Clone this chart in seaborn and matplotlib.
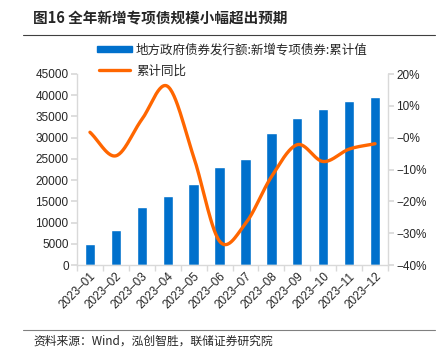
import matplotlib
matplotlib.use("Agg")
import matplotlib.pyplot as plt
import numpy as np
import pandas as pd
import seaborn as sns
from matplotlib.lines import Line2D
from matplotlib.patches import Patch
from matplotlib.ticker import FuncFormatter

months = ["2023-01", "2023-02", "2023-03", "2023-04", "2023-05", "2023-06",
          "2023-07", "2023-08", "2023-09", "2023-10", "2023-11", "2023-12"]
issuance = [4950, 8250, 13650, 16250, 19000, 23100, 25000, 31000, 34650, 36750, 38650, 39500]
yoy = [1.7, -5.7, 5.7, 16.1, -6.0, -32.5, -27.0, -12.3, -2.2, -7.5, -3.6, -1.9]

bar_label = "地方政府债券发行额:新增专项债券:累计值"
line_label = "累计同比"
title = "图16 全年新增专项债规模小幅超出预期"
source = "资料来源：Wind，泓创智胜，联储证券研究院"

BLUE = "#0070CC"
ORANGE = "#FF6600"
AXIS = "#D9D9D9"
CJK = ["Noto Sans CJK SC", "DejaVu Sans"]

sns.set_theme(style="white")
plt.rcParams["font.family"] = ["Liberation Sans", "Noto Sans CJK SC", "DejaVu Sans"]
plt.rcParams["axes.unicode_minus"] = True


def catmull_rom(x, y, n=30):
    # smooth curve through the points (Excel-style smoothed line)
    x = np.asarray(x, float)
    y = np.asarray(y, float)
    px = np.concatenate([[2 * x[0] - x[1]], x, [2 * x[-1] - x[-2]]])
    py = np.concatenate([[2 * y[0] - y[1]], y, [2 * y[-1] - y[-2]]])
    xs, ys = [], []
    t = np.linspace(0, 1, n)
    for i in range(1, len(px) - 2):
        for p, out in ((px, xs), (py, ys)):
            p0, p1, p2, p3 = p[i - 1], p[i], p[i + 1], p[i + 2]
            out.append(0.5 * (2 * p1 + (-p0 + p2) * t
                              + (2 * p0 - 5 * p1 + 4 * p2 - p3) * t ** 2
                              + (-p0 + 3 * p1 - 3 * p2 + p3) * t ** 3))
    return np.concatenate(xs), np.concatenate(ys)


df = pd.DataFrame({"month": months, "issuance": issuance, "yoy": yoy})

W, H = 443, 350
fig = plt.figure(figsize=(W / 100, H / 100), dpi=100)
ax = fig.add_axes([77 / W, 1 - 265 / H, (388 - 77) / W, (265 - 74) / H])

sns.barplot(data=df, x="month", y="issuance", color=BLUE, width=0.4,
            saturation=1, ax=ax, zorder=2)
ax.set_xlim(-0.5, len(months) - 0.5)
ax.set_ylim(0, 45000)
ax.set_yticks(np.arange(0, 45001, 5000))
ax.set_xlabel("")
ax.set_ylabel("")

ax2 = ax.twinx()
sx, sy = catmull_rom(np.arange(len(months)), df["yoy"])
ax2.plot(sx, sy / 100, color=ORANGE, lw=2.4, zorder=3)
ax2.set_ylim(-0.4, 0.2)
ax2.set_yticks(np.arange(-0.4, 0.21, 0.1))
ax2.yaxis.set_major_formatter(FuncFormatter(lambda v, _: f"{v * 100:.0f}%".replace("-", "\u2212")))

for a in (ax, ax2):
    for s in a.spines.values():
        s.set_visible(False)
ax.spines["left"].set_visible(True)
ax.spines["bottom"].set_visible(True)
ax2.spines["right"].set_visible(True)
for s in (ax.spines["left"], ax.spines["bottom"], ax2.spines["right"]):
    s.set_color(AXIS)
    s.set_linewidth(1)

ax.tick_params(axis="y", length=4, color=AXIS, labelsize=8.5, pad=2, left=True)
ax2.tick_params(axis="y", length=4, color=AXIS, labelsize=8.5, pad=2, right=True)
ax.set_xticks(np.arange(len(months)))
ax.set_xticklabels([m.replace("-", "\u2013") for m in months], rotation=45, ha="right",
                   rotation_mode="anchor", fontsize=8.5)
ax.tick_params(axis="x", length=0, pad=4)
# category boundary ticks
ax.set_xticks(np.arange(-0.5, len(months), 1), minor=True)
ax.tick_params(axis="x", which="minor", length=4, color=AXIS, bottom=True)

fig.legend(handles=[Patch(color=BLUE, label=bar_label)], loc="center left",
           bbox_to_anchor=(92 / W, 1 - 50 / H), frameon=False,
           handlelength=2.8, handleheight=0.45, handletextpad=0.3, borderaxespad=0,
           prop={"family": CJK, "size": 9})
fig.legend(handles=[Line2D([], [], color=ORANGE, lw=2.4, label=line_label)], loc="center left",
           bbox_to_anchor=(94 / W, 1 - 71 / H), frameon=False,
           handlelength=2.5, handletextpad=0.5, borderaxespad=0,
           prop={"family": CJK, "size": 9})

fig.text(33 / W, 1 - 18 / H, title, fontsize=10.5, fontweight="bold",
         family=CJK, va="center", ha="left")
fig.add_artist(Line2D([23 / W, 435 / W], [1 - 35 / H, 1 - 35 / H], color="#404040", lw=0.8))
fig.add_artist(Line2D([23 / W, 435 / W], [1 - 330 / H, 1 - 330 / H], color="#808080", lw=0.8))
fig.text(33 / W, 1 - 341 / H, source, fontsize=8.5, family=CJK, va="center", ha="left")

fig.savefig("out.png", dpi=100)
